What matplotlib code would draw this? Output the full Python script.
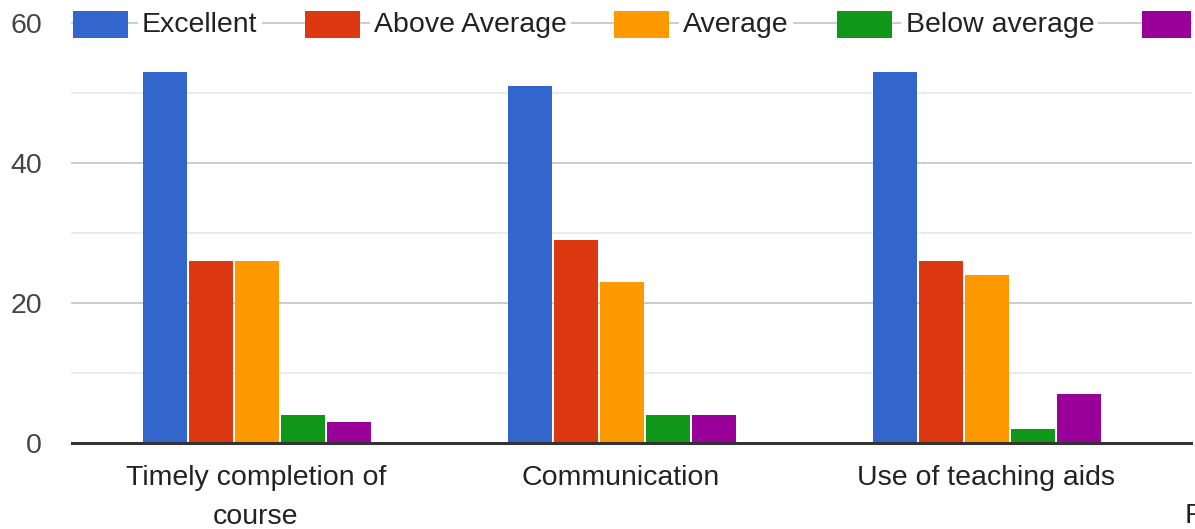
import matplotlib
matplotlib.use('Agg')
import matplotlib.pyplot as plt
from matplotlib.patches import Rectangle
import numpy as np

categories = ["Timely completion of\ncourse", "Communication", "Use of teaching aids"]
series_names = ["Excellent", "Above Average", "Average", "Below average", "Poor"]
excellent = [53, 51, 53]
above_average = [26, 29, 26]
average = [26, 23, 24]
below_average = [4, 4, 2]
poor = [3, 4, 7]
y_ticks = [0, 20, 40, 60]
y_minor = [10, 30, 50]
colors = ["#3366cc", "#dc3912", "#ff9900", "#109618", "#990099"]
cut_label = "F"

plt.rcParams['font.family'] = ['Liberation Sans', 'DejaVu Sans']
FS = 20.5
W, H = 1195, 529
fig = plt.figure(figsize=(W / 100, H / 100), dpi=100)
ax = fig.add_axes([72 / W, (H - 443) / H, (1191 - 72) / W, (443 - 23) / H])

series = [excellent, above_average, average, below_average, poor]
x = np.arange(len(categories))
step = 46 / 365
width = 44 / 365
for i, (vals, c) in enumerate(zip(series, colors)):
    ax.bar(x + (i - 2) * step + 1 / 365, vals, width=width, color=c, zorder=3)

ax.set_xlim(-0.504, 2.562)
ax.set_ylim(0, 60)
ax.set_yticks(y_ticks)
ax.set_yticks(y_minor, minor=True)
for v in y_ticks:
    ax.axhline(v, color='#cccccc', lw=1.4, zorder=0, clip_on=False)
for v in y_minor:
    ax.axhline(v, color='#ebebeb', lw=1.4, zorder=0, clip_on=False)
ax.axhline(0, color='#333333', lw=2.2, zorder=4, clip_on=False)
for s in ax.spines.values():
    s.set_visible(False)
ax.tick_params(axis='y', which='both', length=0, pad=21.6, labelsize=FS, labelcolor='#444444')
ax.tick_params(axis='x', length=0, pad=16, labelsize=FS, labelcolor='#222222')
ax.set_xticks(x)
ax.set_xticklabels(categories, linespacing=1.62)

# legend drawn on top of the 60 gridline (Google Charts style)
fig.canvas.draw()
r = fig.canvas.get_renderer()
xpos = 73
for name, c in zip(series_names, colors):
    wrect = min(55, 1191 - xpos)
    fig.patches.append(Rectangle((xpos / W, 1 - 38 / H), wrect / W, 27 / H, transform=fig.transFigure,
                                 facecolor=c, edgecolor='none', zorder=5))
    tx = xpos + 69
    if tx > W:
        break
    t = fig.text(tx / W, 1 - 24.5 / H, name, fontsize=FS, color='#222222',
                 va='center', ha='left', zorder=6,
                 bbox=dict(facecolor='white', edgecolor='none', pad=3))
    bb = t.get_window_extent(r)
    xpos = bb.x1 + 47.5

fig.text(1185 / W, 1 - 523 / H, cut_label, fontsize=FS, color='#222222', va='baseline', ha='left')

fig.savefig('out.png', dpi=100)
